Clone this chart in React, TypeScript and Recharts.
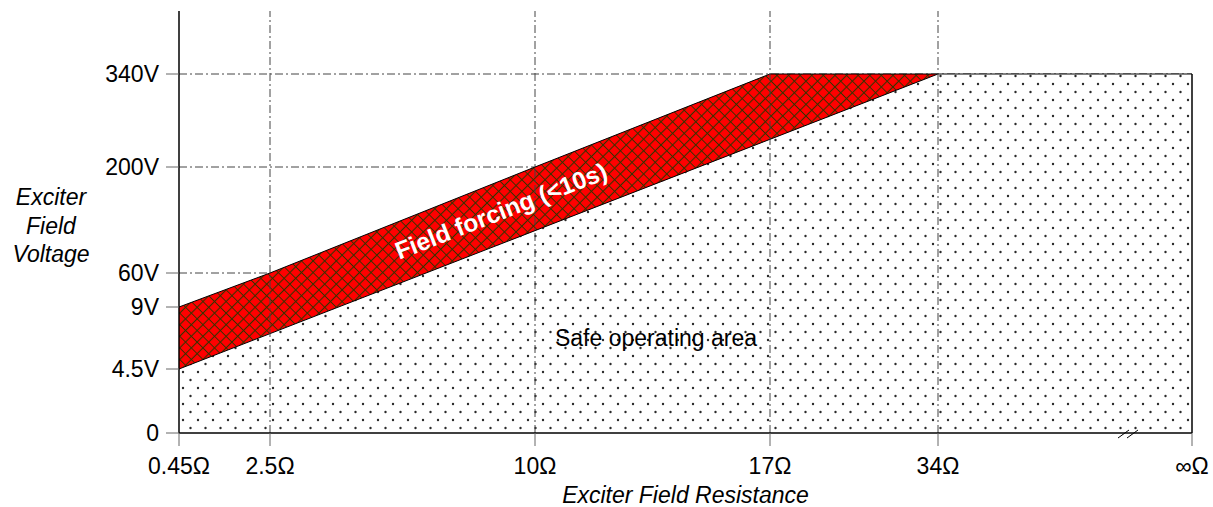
import React from 'react';
import { AreaChart, Area, XAxis, YAxis, CartesianGrid, ReferenceLine, ReferenceDot } from 'recharts';

// axis positions are on a schematic (non-linear) scale, labels carry the real values
const xLabels = ['0.45Ω', '2.5Ω', '10Ω', '17Ω', '34Ω', '∞Ω'];
const xPos = [0, 91, 356, 591, 759, 1013];
const yLabels = ['0', '4.5V', '9V', '60V', '200V', '340V'];
const yPos = [0, 64, 126, 160, 266, 359];

// upper edge of the field forcing band and of the safe operating area
const forcingLimit = [126, 160, 266, 359, 359, null];
const safeLimit = [64, null, null, null, 359, 359];

const data = xPos.map((x, i) => ({ x, forcing: forcingLimit[i], safe: safeLimit[i] }));

const FONT = '"Liberation Sans", Arial, sans-serif';
const GRID = '#444';
const DASH = '8 3 2 3';
const S = 8.2; // crosshatch line spacing

const XTick = (props: any) => {
  const { x, y, payload } = props;
  const i = xPos.indexOf(payload.value);
  return (
    <text x={x} y={y + 28} textAnchor="middle" fontSize={23} fontFamily={FONT} fill="#000">
      {xLabels[i]}
    </text>
  );
};

const YTick = (props: any) => {
  const { x, y, payload } = props;
  const i = yPos.indexOf(payload.value);
  return (
    <text x={x} y={y + 8} textAnchor="end" fontSize={23} fontFamily={FONT} fill="#000">
      {yLabels[i]}
    </text>
  );
};

export default function App() {
  return (
    <div style={{ position: 'absolute', left: 0, top: 0 }}>
      <AreaChart width={1213} height={507} data={data} margin={{ top: 11, right: 21, left: 0, bottom: 0 }}>
        <defs>
          <pattern id="hatch" patternUnits="userSpaceOnUse" width={S} height={S} patternTransform="rotate(45)">
            <rect width={S} height={S} fill="#ff0000" />
            <path d={`M0,${S / 2} L${S},${S / 2} M${S / 2},0 L${S / 2},${S}`} stroke="#333300" strokeWidth={1.1} />
          </pattern>
          <pattern id="dots" patternUnits="userSpaceOnUse" width={15} height={16}>
            <rect width={15} height={16} fill="#fff" />
            <circle cx={3} cy={4} r={1.2} fill="#2a2a2a" />
            <circle cx={10.5} cy={12} r={1.2} fill="#2a2a2a" />
          </pattern>
        </defs>
        <CartesianGrid vertical={false} horizontalValues={yPos.slice(1)} stroke={GRID} strokeDasharray={DASH} />
        <XAxis
          dataKey="x"
          type="number"
          domain={[0, 1013]}
          ticks={xPos}
          interval={0}
          height={74}
          tickSize={13}
          tickMargin={0}
          tickLine={{ stroke: '#666' }}
          axisLine={{ stroke: '#000', strokeWidth: 1.5 }}
          tick={<XTick />}
          label={{ value: 'Exciter Field Resistance', position: 'insideBottom', offset: 4, fontSize: 23, fontStyle: 'italic', fontFamily: FONT, fill: '#000' }}
        />
        <YAxis
          type="number"
          domain={[0, 422]}
          ticks={yPos}
          interval={0}
          width={179}
          tickSize={13}
          tickMargin={7}
          tickLine={{ stroke: '#666' }}
          axisLine={{ stroke: '#000', strokeWidth: 1.5 }}
          tick={<YTick />}
        />
        <Area
          type="linear"
          dataKey="forcing"
          stroke="#000"
          strokeWidth={1}
          fill="url(#hatch)"
          fillOpacity={1}
          connectNulls
          dot={false}
          activeDot={false}
          isAnimationActive={false}
        />
        <Area
          type="linear"
          dataKey="safe"
          stroke="#000"
          strokeWidth={1}
          fill="url(#dots)"
          fillOpacity={1}
          connectNulls
          dot={false}
          activeDot={false}
          isAnimationActive={false}
        />
        {xPos.slice(1, 5).map((x) => (
          <ReferenceLine key={x} x={x} stroke={GRID} strokeDasharray={DASH} />
        ))}
        <ReferenceLine segment={[{ x: 1013, y: 0 }, { x: 1013, y: 359 }]} stroke="#000" strokeWidth={1.5} />
        <ReferenceLine segment={[{ x: 939, y: -5 }, { x: 950, y: 3 }]} stroke="#000" ifOverflow="visible" />
        <ReferenceLine segment={[{ x: 948, y: -5 }, { x: 959, y: 3 }]} stroke="#000" ifOverflow="visible" />
        <ReferenceDot
          x={322}
          y={222}
          r={0}
          ifOverflow="visible"
          shape={(p: any) => (
            <text
              x={p.cx}
              y={p.cy}
              transform={`rotate(-21.3 ${p.cx} ${p.cy})`}
              textAnchor="middle"
              dominantBaseline="central"
              fill="#fff"
              fontWeight="bold"
              fontSize={24.5}
              fontFamily={FONT}
            >
              Field forcing (&lt;10s)
            </text>
          )}
        />
        <ReferenceDot
          x={477}
          y={95}
          r={0}
          ifOverflow="visible"
          shape={(p: any) => (
            <text x={p.cx} y={p.cy + 8} textAnchor="middle" fontSize={23} fontFamily={FONT} fill="#000">
              Safe operating area
            </text>
          )}
        />
      </AreaChart>
      <div
        style={{
          position: 'absolute',
          left: 0,
          top: 183,
          width: 102,
          textAlign: 'center',
          fontFamily: FONT,
          fontStyle: 'italic',
          fontSize: 23,
          lineHeight: '28.5px',
        }}
      >
        Exciter
        <br />
        Field
        <br />
        Voltage
      </div>
    </div>
  );
}
